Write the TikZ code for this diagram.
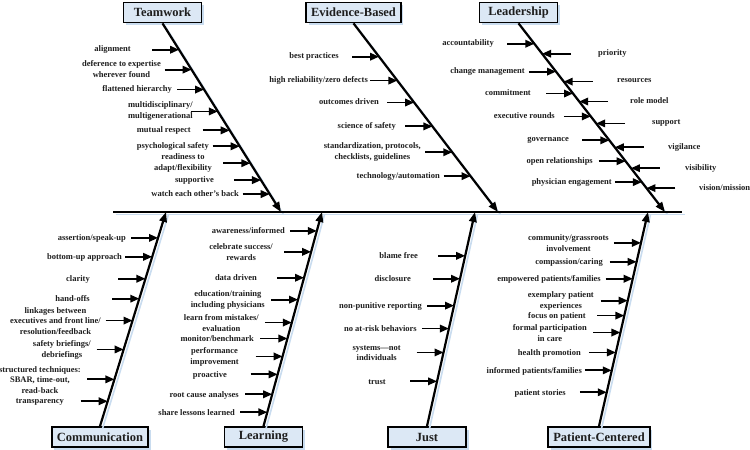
\documentclass[tikz,border=0pt]{standalone}
\usepackage{fontspec}
\setmainfont{Liberation Serif}
\usetikzlibrary{calc, arrows.meta, shadows}

\definecolor{boxfill}{HTML}{DCE8F5}
\definecolor{boxshade}{HTML}{C9DCEF}
\definecolor{ink}{HTML}{1E1E1E}

\tikzset{
	category/.style = {draw = black, line width = 1.7pt, fill = boxfill, text = ink, font = \bfseries\fontsize{12.5}{14}\selectfont, minimum width = 78pt, minimum height = 20pt, inner xsep = 5pt, inner ysep = 0pt, drop shadow = {shadow xshift = 2.5pt, shadow yshift = -2.5pt, fill = boxshade, opacity = 1}},
	bone/.style = {line width = 2.2pt, -{Triangle[length = 10pt, width = 7.5pt]}},
	twig/.style = {line width = 1.8pt, -{Triangle[length = 9pt, width = 7.5pt]}},
	cause/.style = {text = ink, font = \bfseries\fontsize{8.5}{10.3}\selectfont, inner sep = 1pt, align = center},
	bone shadow/.style = {line width = 1.6pt, draw = boxshade, transform canvas = {shift = {(2.5pt, -2.5pt)}}}
}

\begin{document}
\begin{tikzpicture}[x = 1pt, y = -1pt]
		\useasboundingbox (0, 0) rectangle (750, 450);
		
		\coordinate (spine-l) at (113, 212);
		\coordinate (spine-r) at (682, 212);
		\coordinate (tw-end) at (281, 212);
		\coordinate (ev-end) at (498, 212);
		\coordinate (ld-end) at (665, 212);
		\coordinate (cm-end) at (166, 212);
		\coordinate (lr-end) at (322, 212);
		\coordinate (js-end) at (475, 212);
		\coordinate (pc-end) at (648, 212);
		
		\node[category] (teamwork) at (162.5, 12.5) {Teamwork};
		\node[category] (evidence) at (353.5, 12.5) {Evidence-Based};
		\node[category] (leadership) at (518.5, 12.5) {Leadership};
		\node[category] (communication) at (100, 437) {Communication};
		\node[category] (learning) at (263.5, 437) {Learning};
		\node[category] (just) at (427, 437) {Just};
		\node[category] (patient) at (599, 437) {Patient-Centered};
		
		\draw[bone shadow] (spine-l) -- (spine-r);
		\draw[bone shadow] (teamwork.south) -- (tw-end);
		\draw[bone shadow] (evidence.south) -- (ev-end);
		\draw[bone shadow] (leadership.south) -- (ld-end);
		\draw[bone shadow] (communication.north) -- (cm-end);
		\draw[bone shadow] (learning.north) -- (lr-end);
		\draw[bone shadow] (just.north) -- (js-end);
		\draw[bone shadow] (patient.north) -- (pc-end);
		
		\draw[line width = 2.2pt] (spine-l) -- (spine-r);
		\draw[bone] (teamwork.south) -- (tw-end);
		\draw[bone] (evidence.south) -- (ev-end);
		\draw[bone] (leadership.south) -- (ld-end);
		\draw[bone] (communication.north) -- (cm-end);
		\draw[bone] (learning.north) -- (lr-end);
		\draw[bone] (just.north) -- (js-end);
		\draw[bone] (patient.north) -- (pc-end);
		
		\foreach \y/\x/\t [count = \i] in {49/132/{alignment}, 69/162/{deference to expertise\\wherever found}, 89/173/{flattened hierarchy}, 111/194/{multidisciplinary/\\multigenerational}, 130/192/{mutual respect}, 146/210/{psychological safety}, 163/213/{readiness to\\adapt/flexibility}, 180/215/{supportive}, 194/240/{watch each other’s back}}
		{
			\coordinate (tw\i) at ($(teamwork.south)!{(\y - 22.5) / 189.5}!(tw-end)$);
			\coordinate (tw-tail\i) at ($(tw\i) + (-27, 0)$);
			\draw[twig] (tw-tail\i) -- (tw\i);
			\node[cause, anchor = east] (tw-cause\i) at (\x, \y) {\t};
		}
		
		\foreach \y/\x/\t [count = \i] in {56/340/{best practices}, 80/369/{high reliability/zero defects}, 102/380/{outcomes driven}, 126/397/{science of safety}, 152/422/{standardization, protocols,\\checklists, guidelines}, 176/441/{technology/automation}}
		{
			\coordinate (ev\i) at ($(evidence.south)!{(\y - 22.5) / 189.5}!(ev-end)$);
			\coordinate (ev-tail\i) at ($(ev\i) + (-27, 0)$);
			\draw[twig] (ev-tail\i) -- (ev\i);
			\node[cause, anchor = east] (ev-cause\i) at (\x, \y) {\t};
		}
		
		\foreach \y/\x/\t [count = \i] in {43/495/{accountability}, 71/526/{change management}, 93/532/{commitment}, 116/556/{executive rounds}, 140/570/{governance}, 161/594/{open relationships}, 182/613/{physician engagement}}
		{
			\coordinate (ld\i) at ($(leadership.south)!{(\y - 22.5) / 189.5}!(ld-end)$);
			\coordinate (ld-tail\i) at ($(ld\i) + (-27, 0)$);
			\draw[twig] (ld-tail\i) -- (ld\i);
			\node[cause, anchor = east] (ld-cause\i) at (\x, \y) {\t};
		}
		
		\foreach \y/\x/\t [count = \i] in {53/597/{priority}, 81/616/{resources}, 101/629/{role model}, 123/651/{support}, 147/667/{vigilance}, 168/684/{visibility}, 188/698/{vision/mission}}
		{
			\coordinate (lr\i) at ($(leadership.south)!{(\y - 22.5) / 189.5}!(ld-end)$);
			\coordinate (lr-tail\i) at ($(lr\i) + (29, 0)$);
			\draw[twig] (lr-tail\i) -- (lr\i);
			\node[cause, anchor = west] (lr-cause\i) at (\x, \y) {\t};
		}
		
		\foreach \y/\x/\t [count = \i] in {238/127/{assertion/speak-up}, 257/123/{bottom-up approach}, 279/91/{clarity}, 299/91/{hand-offs}, 321/102/{linkages between\\executives and front line/\\resolution/feedback}, 350/92/{safety briefings/\\debriefings}, 380/82/{structured techniques:\\SBAR, time-out,\\read-back}, 402/65/{transparency}}
		{
			\coordinate (cm\i) at ($(communication.north)!{(427 - \y) / 215}!(cm-end)$);
			\coordinate (cm-tail\i) at ($(cm\i) + (-27, 0)$);
			\draw[twig] (cm-tail\i) -- (cm\i);
			\node[cause, anchor = east] (cm-cause\i) at (\x, \y) {\t};
		}
		
		\foreach \y/\x/\t [count = \i] in {231/286/{awareness/informed}, 252/274/{celebrate success/\\rewards}, 278/258/{data driven}, 300/266/{education/training\\including physicians}, 323/260/{learn from mistakes/\\evaluation}, 339/255/{monitor/benchmark}, 357/240/{performance\\improvement}, 375/228/{proactive}, 395/240/{root cause analyses}, 413/236/{share lessons learned}}
		{
			\coordinate (ln\i) at ($(learning.north)!{(427 - \y) / 215}!(lr-end)$);
			\coordinate (ln-tail\i) at ($(ln\i) + (-27, 0)$);
			\draw[twig] (ln-tail\i) -- (ln\i);
			\node[cause, anchor = east] (ln-cause\i) at (\x, \y) {\t};
		}
		
		\foreach \y/\x/\t [count = \i] in {256/419/{blame free}, 279/412/{disclosure}, 306/423/{non-punitive reporting}, 329/418/{no at-risk behaviors}, 353/402/{systems—not\\individuals}, 382/387/{trust}}
		{
			\coordinate (js\i) at ($(just.north)!{(427 - \y) / 215}!(js-end)$);
			\coordinate (js-tail\i) at ($(js\i) + (-27, 0)$);
			\draw[twig] (js-tail\i) -- (js\i);
			\node[cause, anchor = east] (js-cause\i) at (\x, \y) {\t};
		}
		
		\foreach \y/\x/\t [count = \i] in {243/610/{community/grassroots\\involvement}, 262/604/{compassion/caring}, 279/602/{empowered patients/families}, 301/595/{exemplary patient\\experiences}, 316/587/{focus on patient}, 333/588/{formal participation\\in care}, 353/582/{health promotion}, 371/583/{informed patients/families}, 393/567/{patient stories}}
		{
			\coordinate (pc\i) at ($(patient.north)!{(427 - \y) / 215}!(pc-end)$);
			\coordinate (pc-tail\i) at ($(pc\i) + (-27, 0)$);
			\draw[twig] (pc-tail\i) -- (pc\i);
			\node[cause, anchor = east] (pc-cause\i) at (\x, \y) {\t};
		}
	\end{tikzpicture}
\end{document}
